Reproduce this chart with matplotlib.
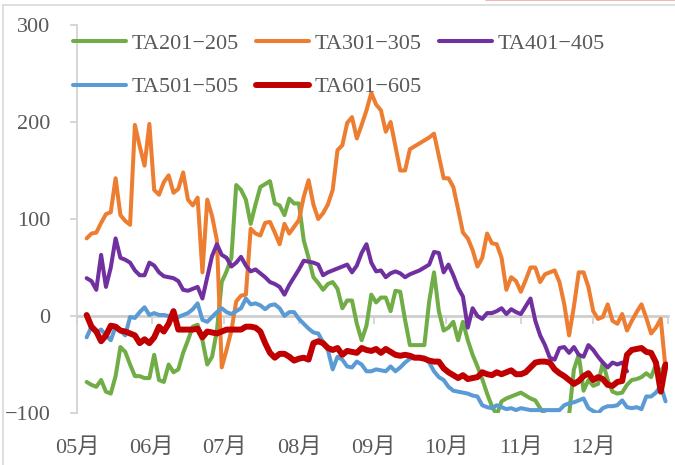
import numpy as np
import pandas as pd
import matplotlib
matplotlib.use("Agg")
import matplotlib.pyplot as plt
from matplotlib.lines import Line2D

# spread data, sampled every 2 days from early May to year end
dates = pd.date_range("2021-05-05", periods=121, freq="2D")

ta201_205 = [
    -68, -71, -73, -66, -78, -80, -62, -32, -37, -50,
    -62, -62, -64, -64, -40, -66, -68, -50, -58, -55,
    -38, -25, -11, -9, -25, -50, -42, -15, 35, 46,
    60, 135, 130, 120, 95, 115, 133, 136, 139, 116,
    114, 104, 121, 116, 116, 78, 60, 40, 34, 27,
    33, 35, 28, 8, 16, 16, -8, -25, -10, 22,
    14, 19, 19, 5, 26, 25, -4, -30, -30, -30,
    -30, 15, 45, 5, -15, -12, -6, -25, -6, -25,
    -40, -52, -65, -80, -93, -102, -88, -85, -83, -81,
    -79, -82, -85, -87, -95, -102, -102, -102, -102, -102,
    -102, -55, -40, -77, -66, -72, -70, -48, -66, -78,
    -80, -79, -71, -66, -65, -63, -59, -63, -50, -58,
    -48,
]

ta301_305 = [
    80, 85, 86, 96, 105, 107, 142, 104, 98, 94,
    197, 175, 155, 198, 130, 125, 138, 145, 127, 131,
    148, 120, 114, 122, 45, 120, 103, 78, -53, -35,
    -15, 15, 21, 22, 90, 85, 83, 96, 97, 86,
    74, 95, 85, 92, 99, 123, 140, 115, 100, 106,
    115, 130, 171, 176, 199, 205, 183, 197, 212, 230,
    218, 212, 190, 200, 175, 150, 150, 172, 175, 178,
    181, 184, 188, 165, 142, 142, 133, 110, 86, 80,
    68, 51, 60, 85, 75, 74, 60, 27, 40, 36,
    25, 37, 50, 50, 35, 43, 45, 47, 35, 12,
    -20, 10, 45, 45, 30, 5, -3, -1, 12, -5,
    -8, 2, -15, -5, 4, 12, -2, -18, -12, -3,
    -55,
]

ta401_405 = [
    39, 36, 27, 63, 30, 50, 80, 60, 58, 55,
    47, 42, 42, 55, 52, 45, 41, 40, 39, 36,
    27, 26, 28, 30, 18, 40, 62, 74, 63, 60,
    51, 55, 61, 52, 46, 48, 44, 40, 35, 33,
    30, 22, 32, 40, 48, 57, 56, 55, 53, 42,
    45, 47, 49, 51, 53, 45, 52, 65, 74, 55,
    46, 47, 40, 44, 46, 44, 40, 43, 45, 47,
    50, 53, 66, 65, 45, 53, 42, 29, 20, -12,
    8, 0, -3, 3, 3, 5, 8, 2, 7, 4,
    2, 10, 18, -5, -20, -30, -43, -45, -33, -32,
    -38, -32, -40, -42, -30, -35, -42, -48, -53, -48,
    -50, -48, -57, np.nan, np.nan, np.nan, np.nan, np.nan, np.nan, np.nan,
    np.nan,
]

ta501_505 = [
    -22, -11, -17, -14, -20, -25, -11, -15, -20, -1,
    -2, 4, 9, 1, 3, 1, 1, 0, -3, -1,
    1, 3, 7, 13, -4, -6, -1, 4, 8, 4,
    2, 5, 8, 18, 12, 13, 11, 7, 11, 12,
    8, 0, 4, 4, -3, -8, -13, -17, -18, -27,
    -35, -55, -42, -45, -52, -53, -47, -50, -57, -57,
    -55, -56, -57, -52, -57, -53, -48, -44, -43, -43,
    -43, -48, -57, -63, -66, -73, -77, -78, -79, -80,
    -82, -83, -92, -94, -95, -92, -94, -96, -95, -97,
    -95, -96, -97, -97, -97, -97, -97, -97, -97, -92,
    -90, -89, -87, -85, -95, -98, -100, -95, -93, -93,
    -92, -87, -94, -95, -94, -96, -83, -83, -79, -72,
    -88,
]

ta601_605 = [
    1, -11, -16, -26, -20, -10, -11, -15, -16, -18,
    -20, -28, -24, -28, -22, -11, -16, -8, 5, -14,
    -14, -14, -14, -13, -22, -16, -17, -18, -16, -14,
    -14, -14, -14, -11, -11, -12, -16, -28, -38, -43,
    -39, -39, -42, -46, -44, -43, -45, -28, -26, -28,
    -33, -35, -33, -40, -36, -37, -38, -33, -35, -36,
    -34, -38, -34, -37, -40, -41, -40, -41, -43, -43,
    -44, -46, -47, -47, -54, -58, -61, -64, -61, -65,
    -64, -63, -58, -60, -61, -58, -60, -58, -56, -60,
    -60, -58, -53, -48, -47, -47, -48, -55, -59, -62,
    -66, -70, -67, -62, -59, -66, -63, -65, -71, -72,
    -68, -67, -40, -35, -34, -33, -37, -38, -48, -78,
    -50,
]

series_names = ["TA201\u2212205", "TA301\u2212305", "TA401\u2212405",
                "TA501\u2212505", "TA601\u2212605"]
series_colors = ["#70AD47", "#ED7D31", "#7030A0", "#5B9BD5", "#C00000"]
series_widths = [2.9, 2.9, 2.9, 2.9, 4.3]

month_starts = pd.date_range("2021-05-01", "2021-12-01", freq="MS")
month_labels = ["05月", "06月", "07月", "08月", "09月", "10月", "11月", "12月"]
y_ticks = [-100, 0, 100, 200, 300]
y_labels = ["\u2212100", "0", "100", "200", "300"]

text_grey = "#595959"
axis_grey = "#D0D0D0"

plt.rcParams["font.family"] = ["Liberation Serif", "Noto Sans CJK SC"]

fig = plt.figure(figsize=(6.75, 4.65), dpi=100)
ax = fig.add_axes([77 / 675, 52 / 465, 591 / 675, 388 / 465])

all_series = [ta201_205, ta301_305, ta401_405, ta501_505, ta601_605]
handles = []
for vals, name, col, lw in zip(all_series, series_names, series_colors, series_widths):
    (ln,) = ax.plot(dates, vals, color=col, linewidth=lw, label=name,
                    solid_joinstyle="round", solid_capstyle="round", zorder=3)
    handles.append(ln)

ax.set_xlim(pd.Timestamp("2021-05-01"), pd.Timestamp("2022-01-01"))
ax.set_ylim(-100, 300)

# y axis on the left, light grey with outward ticks
for side in ["top", "right"]:
    ax.spines[side].set_visible(False)
ax.spines["left"].set_color(axis_grey)
ax.spines["left"].set_linewidth(1.2)
ax.set_yticks(y_ticks)
ax.set_yticklabels(y_labels)
ax.tick_params(axis="y", direction="out", length=5, width=1.2, color=axis_grey,
               labelsize=16, labelcolor=text_grey, pad=14)

# category axis line crossing at zero, labels stay at the bottom
ax.axhline(0, color=axis_grey, linewidth=1.8, zorder=1)
ax.spines["bottom"].set_position(("data", 0))
ax.spines["bottom"].set_color(axis_grey)
ax.spines["bottom"].set_linewidth(1.8)
ax.set_xticks(list(month_starts) + [pd.Timestamp("2022-01-01")])
ax.tick_params(axis="x", direction="out", length=6, width=1.2, color=axis_grey,
               labelbottom=False)

month_axis = ax.secondary_xaxis("bottom")
month_axis.set_xticks(month_starts, month_labels)
month_axis.spines["bottom"].set_visible(False)
month_axis.tick_params(axis="x", length=0, labelsize=16, labelcolor=text_grey, pad=18)

# legend: two rows, filled row-wise
order = [0, 3, 1, 4, 2]
ax.legend([handles[i] for i in order], [series_names[i] for i in order],
          ncol=3, loc="upper left", bbox_to_anchor=(73 / 675, 1 - 33 / 465),
          bbox_transform=fig.transFigure, frameon=False, fontsize=16,
          labelcolor=text_grey, handlelength=2.4, handletextpad=0.25,
          columnspacing=0.75, labelspacing=1.05, borderpad=0, borderaxespad=0)

# outer chart frame
fig.add_artist(Line2D([3 / 675, 3 / 675], [0, 1 - 5 / 465], color="#D9D9D9", linewidth=1.2))
fig.add_artist(Line2D([3 / 675, 1], [1 - 5 / 465, 1 - 5 / 465], color="#D9D9D9", linewidth=1.2))
fig.add_artist(Line2D([0.72, 1], [0.999, 0.999], color="#F2A7A7", linewidth=1.2))

fig.savefig("out.png", dpi=100)
